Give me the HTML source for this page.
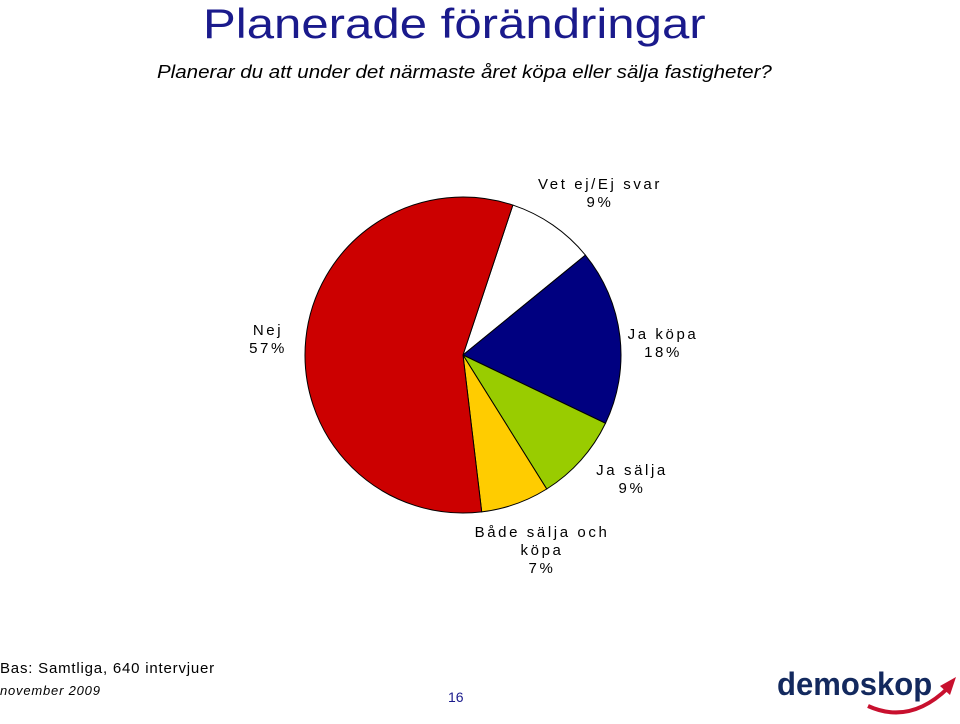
<!DOCTYPE html>
<html><head><meta charset="utf-8"><style>
body{margin:0;width:960px;height:724px;background:#fff;position:relative;overflow:hidden;font-family:"Liberation Sans",sans-serif}
.t{position:absolute;white-space:nowrap}
.lbl{position:absolute;font-size:15px;text-align:center;letter-spacing:2.6px;color:#000;line-height:18px}
</style></head><body>
<div class="t" style="left:203px;top:0px;font-size:42px;color:#1a1a8c;line-height:48px;transform:scaleX(1.17);transform-origin:0 0">Planerade förändringar</div>
<div class="t" style="left:157px;top:62px;font-size:18px;font-style:italic;color:#000;transform:scaleX(1.14);transform-origin:0 0">Planerar du att under det närmaste året köpa eller sälja fastigheter?</div>
<svg id="pie" width="960" height="724" style="position:absolute;left:0;top:0"></svg>
<div class="lbl" style="left:500px;top:176px;width:200px">Vet ej/Ej svar<br>9%</div>
<div class="lbl" style="left:228px;top:322px;width:80px">Nej<br>57%</div>
<div class="lbl" style="left:608px;top:326px;width:110px">Ja köpa<br>18%</div>
<div class="lbl" style="left:577px;top:462px;width:110px">Ja sälja<br>9%</div>
<div class="lbl" style="left:452px;top:524px;width:180px">Både sälja och<br>köpa<br>7%</div>
<div class="t" style="left:0;top:660px;font-size:15px;letter-spacing:0.8px">Bas: Samtliga, 640 intervjuer</div>
<div class="t" style="left:0;top:683px;font-size:13px;font-style:italic;letter-spacing:0.8px">november 2009</div>
<div class="t" style="left:448px;top:689px;font-size:14px;color:#1a1a8c">16</div>
<div class="t" style="left:777px;top:666px;font-size:32px;font-weight:bold;color:#13295e;letter-spacing:0px;transform:scaleX(0.97);transform-origin:0 0">demoskop</div>
<svg width="960" height="724" style="position:absolute;left:0;top:0">
<path d="M868 706 Q910 725 948 688" stroke="#c8102e" stroke-width="4" fill="none"/>
<polygon points="956,677 940,686 950,695" fill="#c8102e"/>
</svg>
<script>
const categories=["Vet ej/Ej svar","Ja köpa","Ja sälja","Både sälja och köpa","Nej"];
const values=[9,18,9,7,57];
const colors=["#ffffff","#000080","#99cc00","#ffcc00","#cc0000"];
const svg=document.getElementById('pie');
const cx=463,cy=355,r=158,start=18.4;
const total=values.reduce((a,b)=>a+b,0);
let a=start;
function pt(d){const t=d*Math.PI/180;return [cx+r*Math.sin(t),cy-r*Math.cos(t)];}
values.forEach((v,i)=>{
 const sweep=v/total*360;const p1=pt(a),p2=pt(a+sweep);
 const path=document.createElementNS('http://www.w3.org/2000/svg','path');
 path.setAttribute('d',`M${cx},${cy} L${p1[0]},${p1[1]} A${r},${r} 0 ${sweep>180?1:0} 1 ${p2[0]},${p2[1]} Z`);
 path.setAttribute('fill',colors[i]);path.setAttribute('stroke','#000');path.setAttribute('stroke-width','1');
 
 
 svg.appendChild(path);a+=sweep;
});
</script>
</body></html>
